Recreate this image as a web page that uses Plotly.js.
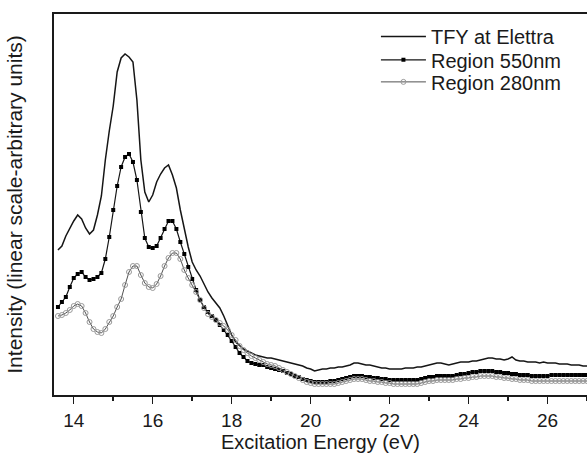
<!DOCTYPE html>
<html>
<head>
<meta charset="utf-8">
<script src="https://cdn.plot.ly/plotly-3.0.1.min.js"></script>
<style>
html,body{margin:0;padding:0;background:#fff;}
#chart{width:587px;height:453px;}
</style>
</head>
<body>
<div id="chart"></div>
<script>
// Excitation energy (eV)
var energy = [13.6,13.7,13.8,13.9,14.0,14.1,14.2,14.3,14.4,14.5,
  14.6,14.7,14.8,14.9,15.0,15.1,15.2,15.3,15.4,15.5,
  15.6,15.7,15.8,15.9,16.0,16.1,16.2,16.3,16.4,16.5,
  16.6,16.7,16.8,16.9,17.0,17.1,17.2,17.3,17.4,17.5,
  17.6,17.7,17.8,17.9,18.0,18.1,18.2,18.3,18.4,18.5,
  18.6,18.7,18.8,18.9,19.0,19.1,19.2,19.3,19.4,19.5,
  19.6,19.7,19.8,19.9,20.0,20.1,20.2,20.3,20.4,20.5,
  20.6,20.7,20.8,20.9,21.0,21.1,21.2,21.3,21.4,21.5,
  21.6,21.7,21.8,21.9,22.0,22.1,22.2,22.3,22.4,22.5,
  22.6,22.7,22.8,22.9,23.0,23.1,23.2,23.3,23.4,23.5,
  23.6,23.7,23.8,23.9,24.0,24.1,24.2,24.3,24.4,24.5,
  24.6,24.7,24.8,24.9,25.0,25.1,25.2,25.3,25.4,25.5,
  25.6,25.7,25.8,25.9,26.0,26.1,26.2,26.3,26.4,26.5,
  26.6,26.7,26.8,26.9,27.0];

// Intensity, arbitrary units
var tfyElettra = [145,149,159,167,174,180,176,167,161,165,
  180,199,235,264,289,323,337,341,338,333,
  295,235,203,193,200,213,221,227,230,220,
  207,185,165,148,133,125,119,111,103,97,
  92,87,79,69,60,53,49,46,44,42,
  40,39,38,37,37,36,35,34,33,32,
  31,30,29,27,26,24,25,26,26,27,
  27,28,28,29,30,32,32,31,30,30,
  29,28,27,27,26,26,26,26,27,27,
  27,28,28,29,30,31,32,32,31,30,
  31,32,33,33,33,34,34,35,36,37,
  37,36,36,35,36,38,35,34,34,33,
  33,33,32,33,32,32,32,31,31,31,
  30,30,30,29,29];

var region550 = [88,93,98,108,117,121,123,118,115,116,
  118,122,136,158,185,209,228,238,241,233,
  215,183,157,148,147,149,157,166,174,174,
  166,153,141,128,116,105,95,88,83,79,
  75,70,65,60,54,48,42,38,34,32,
  31,30,30,28,27,26,25,24,22,21,
  19,18,16,15,14,13,13,13,13,14,
  14,15,16,17,18,19,19,19,18,18,
  17,17,16,16,15,15,15,15,15,15,
  15,15,16,17,18,18,19,19,19,19,
  19,20,21,21,22,23,23,24,24,24,
  24,23,23,22,22,21,21,20,20,20,
  19,19,19,19,19,20,20,20,20,20,
  20,20,20,20,20];

var region280 = [79,80,82,85,89,91,89,82,73,66,
  63,62,66,73,79,88,96,110,123,129,
  129,120,112,108,107,111,119,129,137,142,
  142,136,125,117,110,103,95,87,81,78,
  75,72,69,65,60,55,49,45,42,39,
  37,35,33,31,30,29,27,25,23,21,
  19,17,15,13,12,11,11,11,11,11,
  11,12,13,14,15,16,16,16,15,14,
  14,13,13,12,12,11,11,11,11,11,
  11,11,12,13,14,14,15,15,15,15,
  15,16,16,17,17,18,18,19,19,19,
  19,18,18,17,17,16,16,15,15,15,
  14,14,14,14,14,14,14,14,14,14,
  14,14,14,14,14];

var seriesNames = ['TFY at Elettra', 'Region 550nm', 'Region 280nm'];
var xTickVals = [14,16,18,20,22,24,26];
var xTickText = ['14','16','18','20','22','24','26'];

var FONT = 'Liberation Sans, Arial, sans-serif';
var INK = '#1a1a1a';

var traces = [
  {x: energy, y: tfyElettra, name: seriesNames[0], type: 'scatter', mode: 'lines',
   legend: 'legend',
   line: {color: '#151515', width: 1.5}},
  {x: energy, y: region550, name: seriesNames[1], type: 'scatter', mode: 'lines+markers',
   legend: 'legend2',
   line: {color: '#151515', width: 1.2},
   marker: {symbol: 'square', size: 4, color: '#000'}},
  {x: energy, y: region280, name: seriesNames[2], type: 'scatter', mode: 'lines+markers',
   legend: 'legend3',
   line: {color: '#505050', width: 1},
   marker: {symbol: 'circle-open', size: 5, color: '#999', line: {color: '#999', width: 1}}}
];

function legendAt(y) {
  return {x: 0.604, y: y, xanchor: 'left', yanchor: 'top',
    bgcolor: 'rgba(0,0,0,0)', borderwidth: 0,
    font: {family: FONT, size: 20, color: INK},
    itemwidth: 45};
}

var layout = {
  width: 587, height: 453,
  margin: {l: 54, r: 0, t: 14, b: 58, pad: 0},
  paper_bgcolor: '#fff', plot_bgcolor: '#fff',
  font: {family: FONT, color: INK, size: 19},
  showlegend: true,
  legend: legendAt(0.992),
  legend2: legendAt(0.931),
  legend3: legendAt(0.873),
  xaxis: {
    range: [13.5, 27.0], showgrid: false, zeroline: false,
    showline: true, linecolor: INK, linewidth: 2, mirror: true,
    ticks: 'outside', ticklen: 7, tickwidth: 1.5, tickcolor: INK,
    tickvals: xTickVals, ticktext: xTickText,
    tickfont: {family: FONT, size: 19, color: INK},
    minor: {dtick: 1, tick0: 0, ticks: 'outside', ticklen: 4, tickwidth: 1.5, tickcolor: INK, showgrid: false},
    title: {text: 'Excitation Energy (eV)', font: {family: FONT, size: 20, color: INK}, standoff: 7},
    automargin: false
  },
  yaxis: {
    range: [0, 381], showgrid: false, zeroline: false,
    showline: true, linecolor: INK, linewidth: 2,
    ticks: '', showticklabels: false,
    title: {text: 'Intensity (linear scale-arbitrary units)', font: {family: FONT, size: 21, color: INK}, standoff: 24},
    automargin: false
  }
};

Plotly.newPlot('chart', traces, layout, {staticPlot: true, displayModeBar: false});
</script>
</body>
</html>
